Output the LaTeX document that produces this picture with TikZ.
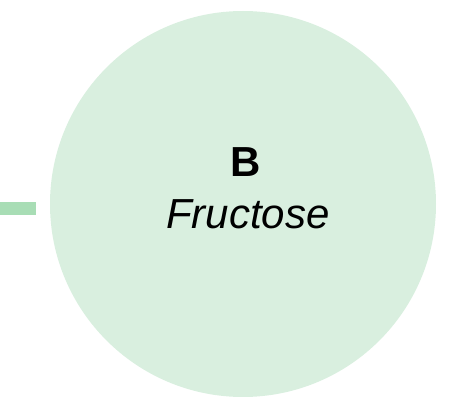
\documentclass[tikz,border=0pt]{standalone}
\usepackage{fontspec}
\setmainfont{Liberation Sans}
\definecolor{sugarfill}{HTML}{D9EFDF}
\definecolor{sugarlink}{HTML}{A8DDB5}

\begin{document}
\begin{tikzpicture}[x=1pt,y=-1pt]
	\tikzstyle{sugar}=[circle,fill=sugarfill,inner sep=0pt,minimum size=386pt]
	\tikzstyle{link}=[sugarlink,line width=13pt]
	\useasboundingbox (0,0) rectangle (451,414);
	\node [sugar] (fruc) at (243,204) {};
	\node [font=\fontsize{42}{46}\selectfont\bfseries] (lbl) at (246,162) {B};
	\node [font=\fontsize{42}{46}\selectfont\itshape] (name) at (248,214) {Fructose};
	\coordinate (in) at (0,209);
	\coordinate (inend) at (36,209);
	\draw [link] (in) -- (inend);
\end{tikzpicture}
\end{document}
